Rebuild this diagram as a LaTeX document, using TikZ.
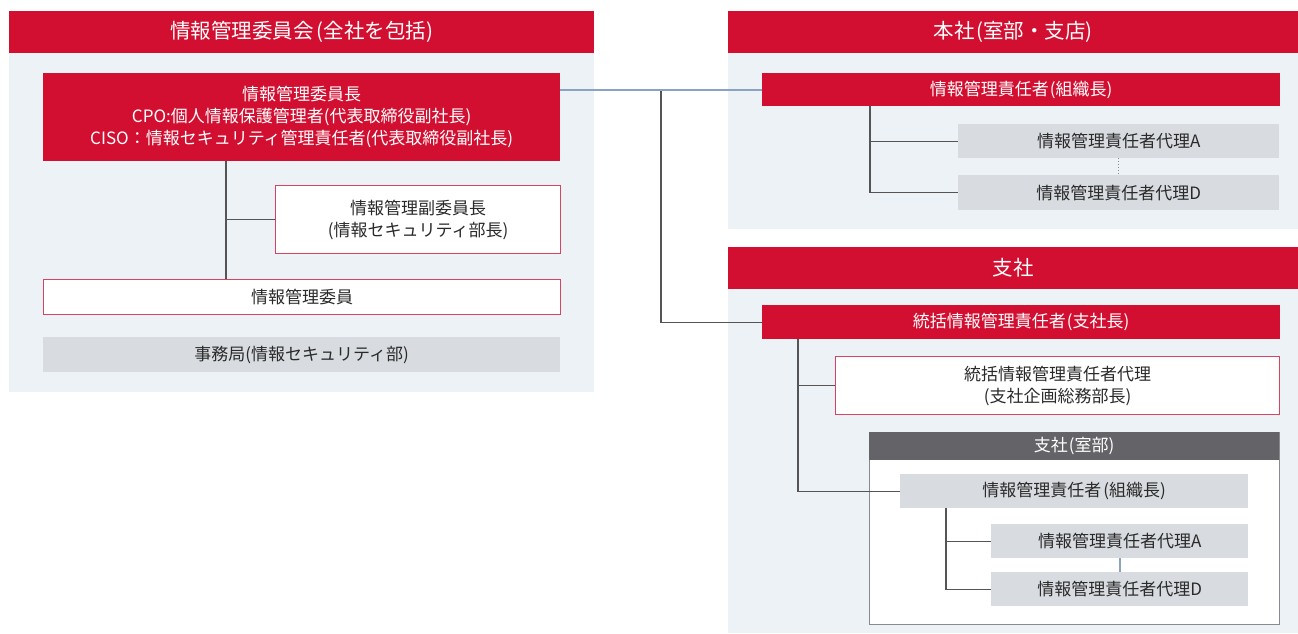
\documentclass[tikz,border=0pt]{standalone}
\usepackage{fontspec}
\setmainfont{Noto Sans CJK JP}
\definecolor{cred}{HTML}{D20F31}
\definecolor{credl}{HTML}{D8435E}
\definecolor{cbg}{HTML}{EDF2F7}
\definecolor{cgbox}{HTML}{D8DCE0}
\definecolor{cdark}{HTML}{646468}
\definecolor{cgrp}{HTML}{8A8A8E}
\definecolor{cline}{HTML}{555555}
\definecolor{cblue}{HTML}{8AA2C4}
\definecolor{ctxt}{HTML}{2A2A2A}
\newcommand{\hfnt}{\fontsize{20.5}{24}\selectfont}
\newcommand{\bfnt}{\fontsize{17}{21.8}\selectfont}
\tikzset{
  pnl/.style={fill=cbg, draw=none, inner sep=0pt, anchor=north west},
  hdr/.style={fill=cred, draw=none, text=white, font=\hfnt, inner sep=0pt, anchor=north west},
  rbox/.style={fill=cred, draw=none, text=white, font=\bfnt, inner sep=0pt, anchor=north west, align=center},
  wbox/.style={fill=white, draw=credl, line width=1.2pt, text=ctxt, font=\bfnt, inner sep=0pt, anchor=north west, align=center},
  gbox/.style={fill=cgbox, draw=none, text=ctxt, font=\bfnt, inner sep=0pt, anchor=north west, align=center},
  grp/.style={fill=white, draw=cgrp, line width=1pt, inner sep=0pt, anchor=north west},
  dhdr/.style={fill=cdark, draw=none, text=white, font=\bfnt, inner sep=0pt, anchor=north west},
  conn/.style={draw=cline, line width=1.3pt},
  bconn/.style={draw=cblue, line width=2pt},
  dconn/.style={draw=cgrp, line width=1pt, dotted},
}
\begin{document}
\begin{tikzpicture}[x=1pt, y=-1pt]
\useasboundingbox (0,0) rectangle (1298,633);
% left panel
\node[pnl, minimum width=585pt, minimum height=339pt] (lpanel) at (9,53) {};
\node[hdr, minimum width=585pt, minimum height=42pt] (lhdr) at (9,11) {情報管理委員会\kern3pt(全社を包括)};
\node[rbox, minimum width=517pt, minimum height=88pt] (chair) at (43,73) {情報管理委員長\\CPO:個人情報保護管理者(代表取締役副社長)\\CISO：情報セキュリティ管理責任者(代表取締役副社長)};
\node[wbox, minimum width=285pt, minimum height=68pt] (vice) at (275,185) {情報管理副委員長\\(情報セキュリティ部長)};
\node[wbox, minimum width=517pt, minimum height=35pt] (member) at (43,279) {情報管理委員};
\node[gbox, minimum width=517pt, minimum height=35pt] (office) at (43,337) {事務局(情報セキュリティ部)};
% right top panel
\node[pnl, minimum width=570pt, minimum height=176pt] (hqpanel) at (728,53) {};
\node[hdr, minimum width=570pt, minimum height=42pt] (hqhdr) at (728,11) {本社\kern2pt(室部・支店)};
\node[rbox, minimum width=518pt, minimum height=33pt] (hqmgr) at (762,73) {情報管理責任者\kern1pt(組織長)};
\node[gbox, minimum width=321pt, minimum height=34pt] (hqA) at (958,124) {情報管理責任者代理A};
\node[gbox, minimum width=321pt, minimum height=35pt] (hqD) at (958,175) {情報管理責任者代理D};
% right bottom panel
\node[pnl, minimum width=570pt, minimum height=344pt] (brpanel) at (728,289) {};
\node[hdr, minimum width=570pt, minimum height=42pt] (brhdr) at (728,247) {支社};
\node[rbox, minimum width=518pt, minimum height=34pt] (brmgr) at (762,305) {統括情報管理責任者\kern1pt(支社長)};
\node[wbox, minimum width=444pt, minimum height=58pt] (brvice) at (835,356) {統括情報管理責任者代理\\(支社企画総務部長)};
\node[grp, minimum width=410pt, minimum height=192pt] (grpbox) at (869,432) {};
\node[dhdr, minimum width=410pt, minimum height=28pt] (grphdr) at (869,432) {支社\kern1pt(室部)};
\node[gbox, minimum width=348pt, minimum height=34pt] (gmgr) at (900,474) {情報管理責任者\kern2pt(組織長)};
\node[gbox, minimum width=257pt, minimum height=34pt] (gA) at (991,524) {情報管理責任者代理A};
\node[gbox, minimum width=257pt, minimum height=34pt] (gD) at (991,572) {情報管理責任者代理D};
% connectors
\coordinate (lx) at (226,0);
\draw[conn] (chair.south -| lx) -- (member.north -| lx);
\draw[conn] (vice.west) -- (vice.west -| lx);
\coordinate (jx) at (661,0);
\draw[conn] (chair.east |- hqmgr.west) -| (jx |- brmgr.west) -- (brmgr.west);
\draw[bconn] (chair.east |- hqmgr.west) -- (hqmgr.west);
\coordinate (hx) at (870,0);
\draw[conn] (hqmgr.south -| hx) |- (hqD.west);
\draw[conn] (hqA.west -| hx) -- (hqA.west);
\draw[dconn] (hqA.south) -- (hqD.north);
\coordinate (bx) at (798,0);
\draw[conn] (brmgr.south -| bx) |- (gmgr.west);
\draw[conn] (brvice.west -| bx) -- (brvice.west);
\coordinate (gx) at (946,0);
\draw[conn] (gmgr.south -| gx) |- (gD.west);
\draw[conn] (gA.west -| gx) -- (gA.west);
\draw[bconn] (gA.south) -- (gD.north);
\end{tikzpicture}
\end{document}
